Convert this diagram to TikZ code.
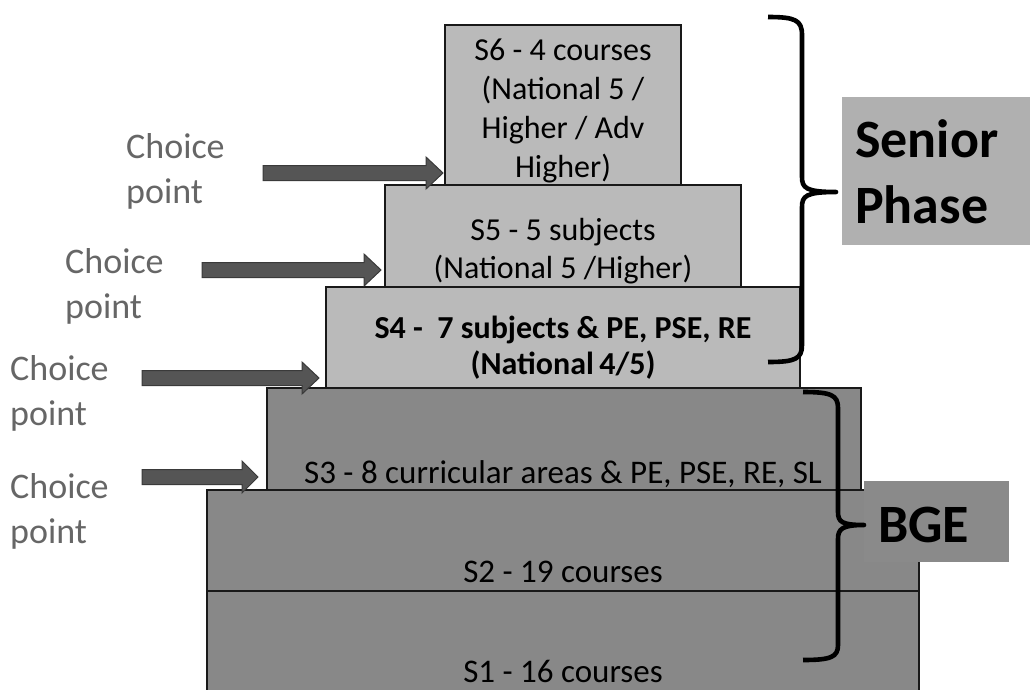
\documentclass[tikz,border=0pt]{standalone}
\usepackage{fontspec}
\setmainfont{Carlito}
\definecolor{boxlight}{HTML}{BABABA}
\definecolor{boxdark}{HTML}{888888}
\definecolor{phaselight}{HTML}{B0B0B0}
\definecolor{phasedark}{HTML}{8A8A8A}
\definecolor{choicegray}{HTML}{666666}
\definecolor{arrowfill}{HTML}{555555}
\definecolor{arrowline}{HTML}{3A3A3A}
\newcommand{\choicearrow}[4]{%
  \filldraw[blockarrow] (#1,{#4-7.5}) -- (#2,{#4-7.5}) -- (#2,{#4-16}) -- (#3,#4) -- (#2,{#4+16}) -- (#2,{#4+7.5}) -- (#1,{#4+7.5}) -- cycle;}
\begin{document}
\begin{tikzpicture}[x=1pt,y=-1pt,
  stepbox/.style={draw=black!90, line width=1.6pt, inner sep=0pt, outer sep=0pt, anchor=north west},
  lightbox/.style={stepbox, fill=boxlight},
  darkbox/.style={stepbox, fill=boxdark},
  lbl/.style={font=\fontsize{32}{39}\selectfont, align=center, anchor=base, inner sep=0pt},
  choice/.style={font=\fontsize{36}{45}\selectfont, text=choicegray, align=left, anchor=base west, inner sep=0pt},
  phasebox/.style={inner sep=0pt, outer sep=0pt, anchor=north west},
  phasetext/.style={font=\bfseries\fontsize{54}{66}\selectfont, align=left, anchor=base west, inner sep=0pt},
  brace/.style={line width=4.6pt, black, line cap=butt, line join=round},
  blockarrow/.style={fill=arrowfill, draw=arrowline, line width=1pt}]
\useasboundingbox (0,0) rectangle (1030,689);
\clip (0,0) rectangle (1030,689);
% steps
\node[darkbox, minimum width=712pt, minimum height=120pt] (s1) at (207,591) {};
\node[darkbox, minimum width=712pt, minimum height=101pt] (s2) at (207,490) {};
\node[darkbox, minimum width=594pt, minimum height=102pt] (s3) at (267,388) {};
\node[lightbox, minimum width=474pt, minimum height=101pt] (s4) at (326,287) {};
\node[lightbox, minimum width=356pt, minimum height=102pt] (s5) at (385,185) {};
\node[lightbox, minimum width=236pt, minimum height=160pt] (s6) at (445,25) {};
% step labels (anchor base = baseline of last line)
\node[lbl] (t6) at (563,177) {S6 - 4 courses\\(National 5 /\\Higher / Adv\\Higher)};
\node[lbl, font=\fontsize{32}{38}\selectfont] (t5) at (563,278) {S5 - 5 subjects\\(National 5 /Higher)};
\node[lbl, font=\bfseries\fontsize{32}{36}\selectfont] (t4) at (563,374) {S4 -\ \ 7 subjects \& PE, PSE, RE\\(National\,4/5)};
\node[lbl, font=\fontsize{33}{39}\selectfont] (t3) at (563,483) {S3 - 8 curricular areas \& PE, PSE, RE, SL};
\node[lbl, font=\fontsize{33}{39}\selectfont] (t2) at (563,582) {S2 - 19 courses};
\node[lbl, font=\fontsize{33}{39}\selectfont] (t1) at (563,682) {S1 - 16 courses};
% phase labels
\node[phasebox, fill=phaselight, minimum width=200pt, minimum height=148pt] (spbox) at (842,97) {};
\node[phasetext] (sp) at (855,223) {Senior\\Phase};
\node[phasebox, fill=phasedark, minimum width=145pt, minimum height=81pt] (bgebox) at (864,481) {};
\node[phasetext] (bge) at (878,542) {BGE};
% braces
\draw[brace] (768,17) .. controls (795,17) and (802,20) .. (802,35) -- (802,177)
  .. controls (802,188) and (806,192) .. (836,192)
  .. controls (806,192) and (802,196) .. (802,207) -- (802,345)
  .. controls (802,359) and (795,362) .. (768,362);
\draw[brace] (803,392) .. controls (831,392) and (838,395) .. (838,408) -- (838,512)
  .. controls (838,522) and (842,525) .. (864,525)
  .. controls (842,525) and (838,529) .. (838,539) -- (838,645)
  .. controls (838,657) and (831,660) .. (803,660);
% choice points (anchor base = baseline of last line)
\node[choice] (c1) at (126,203) {Choice\\point};
\node[choice] (c2) at (65,318) {Choice\\point};
\node[choice] (c3) at (10,425) {Choice\\point};
\node[choice] (c4) at (10,543) {Choice\\point};
\choicearrow{263}{426}{443}{173}
\choicearrow{202}{364}{381}{270}
\choicearrow{142}{302}{319}{378}
\choicearrow{142}{242}{258}{477}
\end{tikzpicture}
\end{document}
